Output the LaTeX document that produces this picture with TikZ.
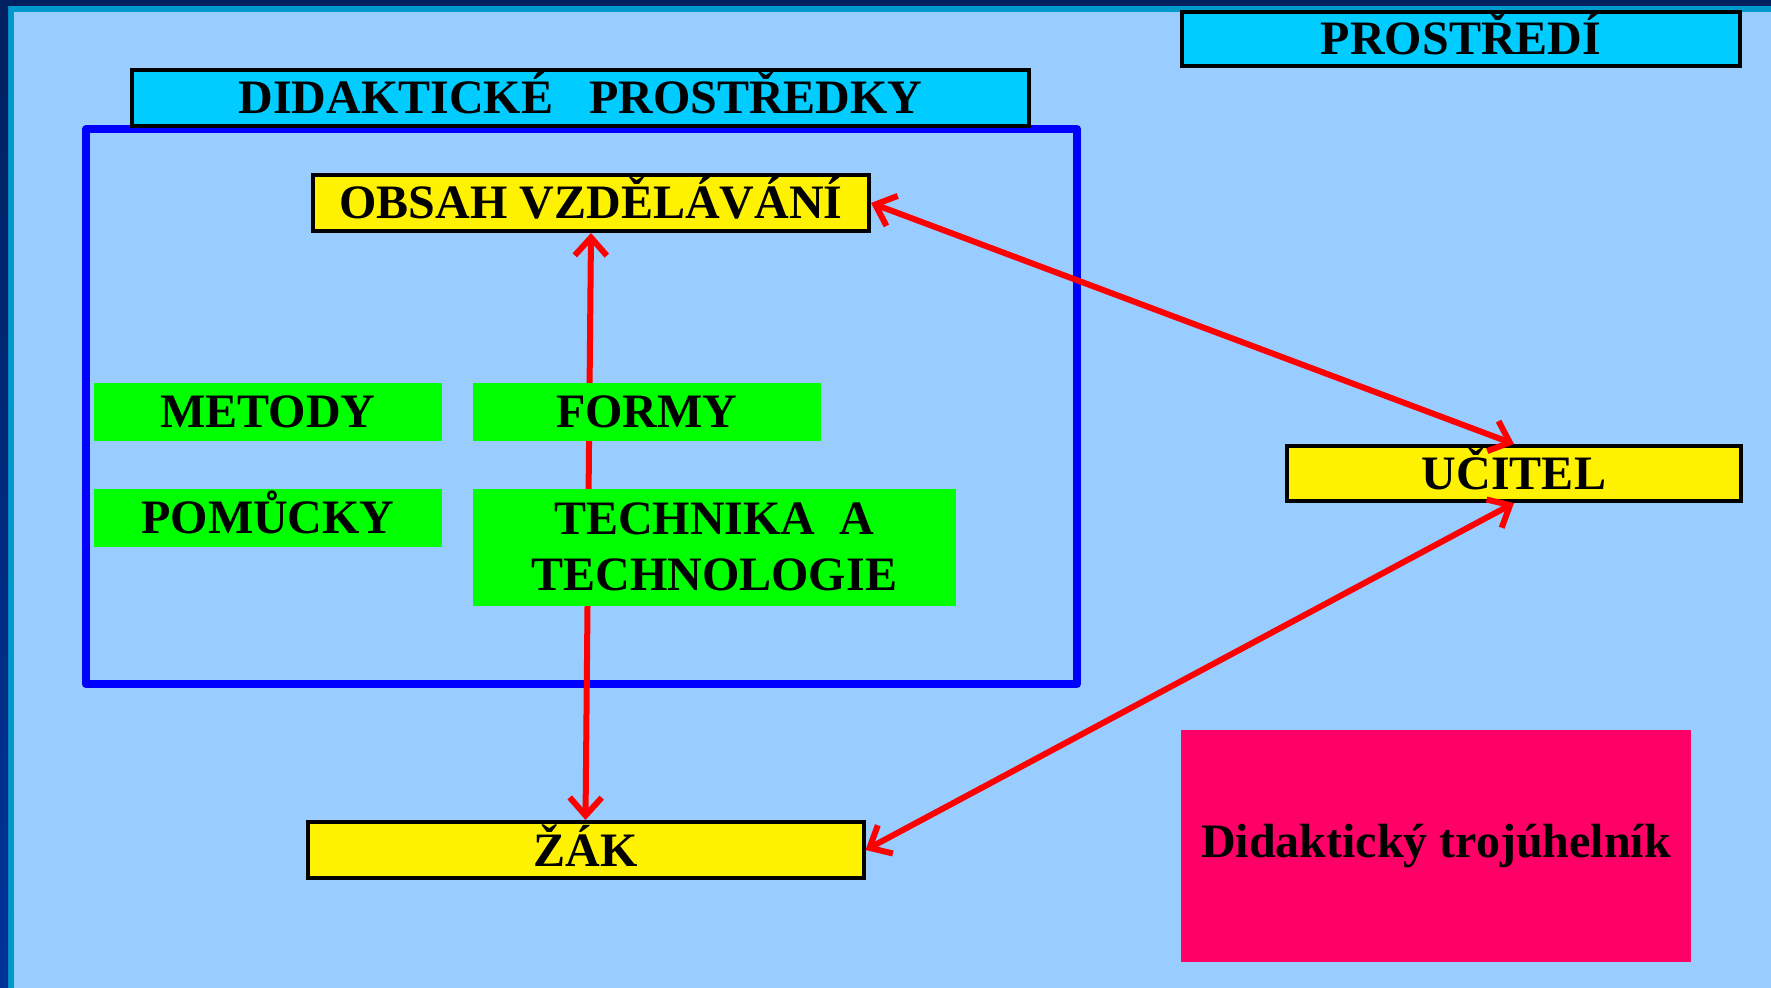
\documentclass[tikz,border=0pt]{standalone}
\usepackage{fontspec}
\setmainfont{Liberation Serif}
\usetikzlibrary{positioning,arrows.meta}
\definecolor{slide}{HTML}{99CCFF}
\definecolor{edgeteal}{HTML}{0099CC}
\definecolor{edgenavy}{HTML}{002060}
\definecolor{edgeblue}{HTML}{003399}
\definecolor{headcyan}{HTML}{00CCFF}
\definecolor{partgreen}{HTML}{00FF00}
\definecolor{frameblue}{HTML}{0000FF}
\definecolor{notepink}{HTML}{FF0066}
\begin{document}
\begin{tikzpicture}[x=1pt,y=-1pt]
	  		\tikzstyle{caps}=[text height=16pt, text depth=0pt]
	  		\tikzstyle{head}=[rectangle, caps, draw=black, line width=2pt, fill=headcyan, minimum height=27pt, inner sep=0pt, font=\bfseries\fontsize{24pt}{28pt}\selectfont]
	  		\tikzstyle{main}=[rectangle, caps, draw=black, line width=2pt, fill=yellow, minimum height=28pt, inner sep=0pt, font=\bfseries\fontsize{24pt}{28pt}\selectfont]
	  		\tikzstyle{part}=[rectangle, fill=partgreen, minimum width=174pt, minimum height=29pt, inner sep=0pt, align=center, font=\bfseries\fontsize{24pt}{28pt}\selectfont]
	  		\tikzstyle{connect}=[{Straight Barb[length=9pt,width=16pt]}-{Straight Barb[length=9pt,width=16pt]}, line width=3pt, red, line cap=round]
	  		\tikzstyle{box}=[rectangle, draw=frameblue, line width=4pt, line join=round, inner sep=0pt]
	  		\useasboundingbox (0,0) rectangle (885.5,494);
	  		\fill[slide] (0,0) rectangle (885.5,494);
	  		\fill[edgeteal] (0,0) rectangle (885.5,6);
	  		\fill[edgeteal] (0,0) rectangle (7,494);
	  		\fill[edgenavy] (0,0) rectangle (885.5,3);
	  		\shade[top color=edgenavy, bottom color=edgeblue] (0,0) rectangle (4,494);
	  		\node[box, minimum width=495.5pt, minimum height=277.5pt] (dp) at (290.75,203.25) { };
	  		\node[head, minimum width=448.5pt, minimum height=28pt] (didak) at (290.25,49) {DIDAKTICKÉ\ \ \ PROSTŘEDKY};
	  		\node[head, minimum width=279pt] (env) at (730.5,19.5) {PROSTŘEDÍ};
	  		\node[main, minimum width=278pt] (obsah) at (295.5,101.5) {OBSAH VZDĚLÁVÁNÍ};
	  		\node[main, minimum width=227pt, minimum height=27.5pt] (ucitel) at (757,236.75) {UČITEL};
	  		\node[main, minimum width=278pt] (zak) at (292.75,425) {ŽÁK};
	  		\path
	  		(obsah.south) edge [connect] (zak.north)
	  		(obsah.east) edge [connect] (ucitel.north)
	  		(ucitel.south) edge [connect] (zak.east);
	  		\node[part, caps] (metody) at (134,206) {METODY};
	  		\node[part, caps] (formy) [right=15pt of metody] {FORMY};
	  		\node[part, caps] (pomucky) [below=23.5pt of metody] {POMŮCKY};
	  		\node[part, minimum width=241.5pt, minimum height=58.5pt] (tech) [below=23.5pt of formy.south west, anchor=north west] {TECHNIKA\ \ A\\TECHNOLOGIE};
	  		\node[rectangle, fill=notepink, minimum width=255pt, minimum height=116pt, inner sep=0pt, font=\bfseries\fontsize{24pt}{28pt}\selectfont] (note) at (718,423) {Didaktický trojúhelník};
\end{tikzpicture}
\end{document}
